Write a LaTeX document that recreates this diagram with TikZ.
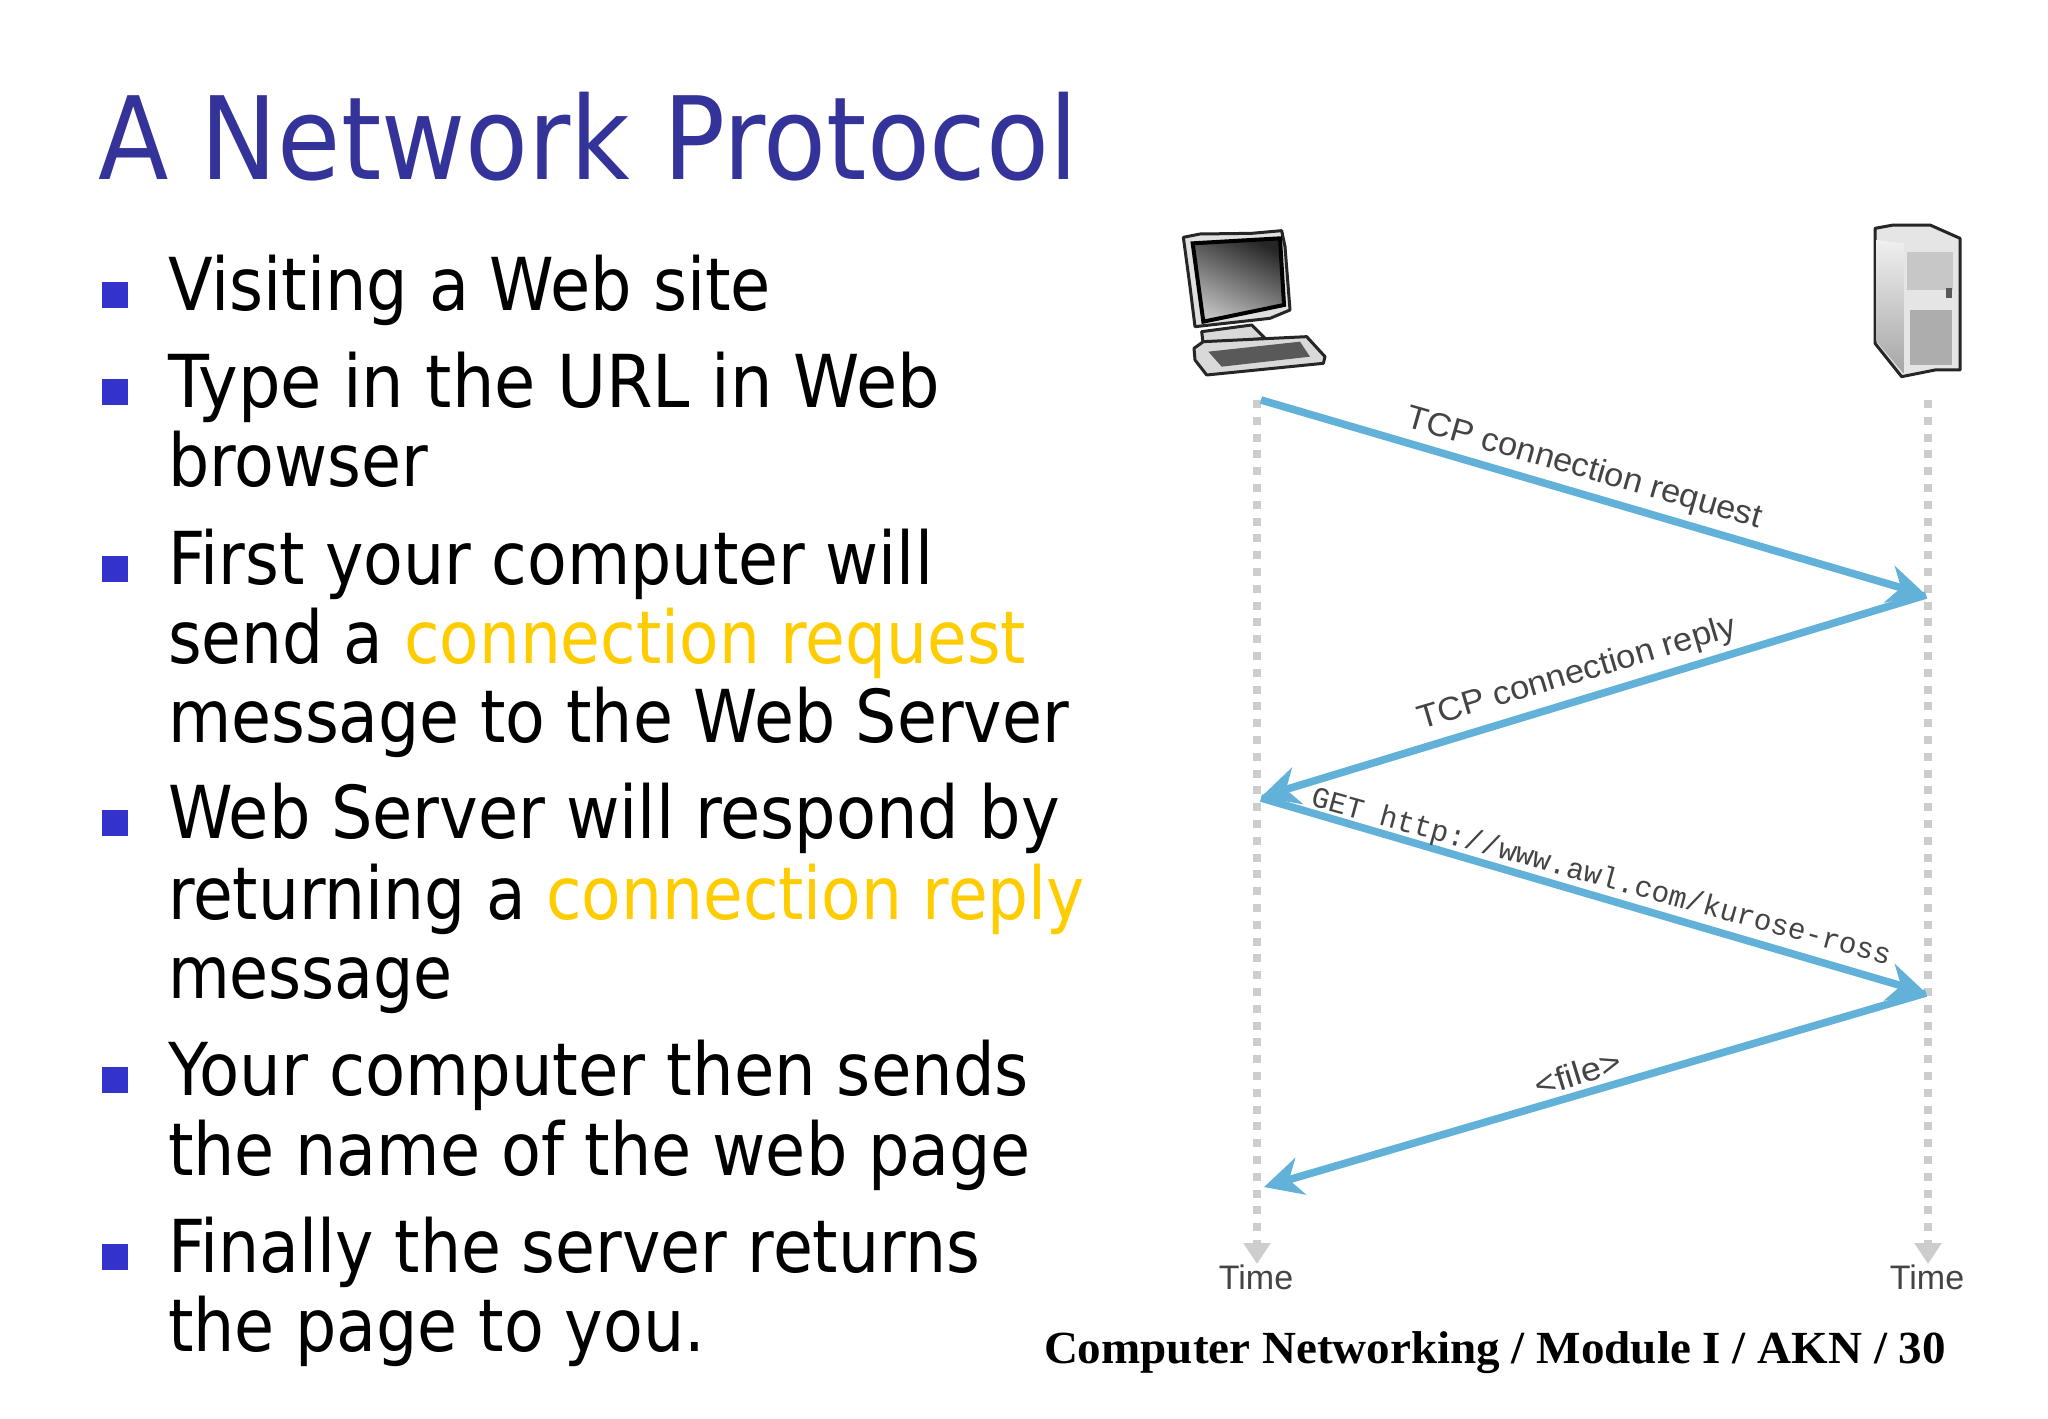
\documentclass[tikz,border=0pt]{standalone}
\usepackage{graphicx}
\usepackage{fontspec}
\setmainfont{DejaVu Sans}
\newfontfamily\footfont{Liberation Serif}
\newfontfamily\labelfont{Liberation Sans}
\newfontfamily\codefont{Liberation Mono}
\usetikzlibrary{arrows.meta,shadings}
\definecolor{titleblue}{HTML}{333399}
\definecolor{bulletblue}{HTML}{3333CC}
\definecolor{hilite}{HTML}{FFCC00}
\definecolor{msgblue}{HTML}{62B1D9}
\definecolor{timegray}{HTML}{CDCDCD}
\definecolor{labelgray}{HTML}{444444}
\tikzset{
  bodyline/.style={inner sep=0pt,outer sep=0pt,anchor=base west,font=\fontsize{36.5}{40}\selectfont,text=black},
  titleline/.style={inner sep=0pt,outer sep=0pt,anchor=base west,font=\fontsize{57.5}{60}\selectfont,text=titleblue},
  footline/.style={inner sep=0pt,outer sep=0pt,anchor=base west,font=\footfont\bfseries\fontsize{23}{26}\selectfont,text=black},
  squarebullet/.style={rectangle,fill=bulletblue,inner sep=0pt,minimum size=12.8pt},
  msglabel/.style={inner sep=0pt,outer sep=0pt,text=labelgray,font=\labelfont\fontsize{16.5}{18}\selectfont},
  codelabel/.style={inner sep=0pt,outer sep=0pt,text=labelgray,font=\codefont\fontsize{14.8}{16}\selectfont},
  timelabel/.style={inner sep=0pt,outer sep=0pt,anchor=base,text=labelgray,font=\labelfont\fontsize{17}{19}\selectfont},
  timeline/.style={draw=timegray,line width=4pt,dash pattern=on 4pt off 4.4pt,-{Triangle[length=10.5pt,width=13pt,fill=timegray]}},
  msgarrow/.style={draw=msgblue,line width=3.8pt,-{Stealth[length=19pt,width=19pt,inset=6pt]}},
  iconline/.style={draw=black!85,line width=1.5pt,line join=round},
}
\newcommand{\fitted}[2]{\resizebox{\dimexpr 0.5pt*\numexpr#1\relax\relax}{\height}{#2}}
\newcommand{\bodytext}[5]{%
  \node[squarebullet] (b#1) at (115,#3-15) {};
  \node[bodyline] (t#1) at (#2,#3) {\fitted{#4-#2}{#5}};}
\newcommand{\moretext}[5]{\node[bodyline] (t#1) at (#2,#3) {\fitted{#4-#2}{#5}};}
\begin{document}
\begin{tikzpicture}[x=0.5pt,y=-0.5pt]
\useasboundingbox[fill=white] (0,0) rectangle (2048,1418);

\node[titleline] (title) at (98,179) {\fitted{1078-98}{A Network Protocol}};

\bodytext{a}{168}{310}{771}{Visiting a Web site}
\bodytext{b}{168}{407}{940}{Type in the URL in Web}
\moretext{c}{168}{486}{428}{browser}
\bodytext{d}{168}{584}{933}{First your computer will}
\moretext{e}{168}{663}{1026}{send a \textcolor{hilite}{connection request}}
\moretext{f}{168}{742}{1069}{message to the Web Server}
\bodytext{g}{168}{838}{1060}{Web Server will respond by}
\moretext{h}{168}{919}{1085}{returning a \textcolor{hilite}{connection reply}}
\moretext{i}{168}{998}{453}{message}
\bodytext{j}{168}{1095}{1029}{Your computer then sends}
\moretext{k}{168}{1175}{1031}{the name of the web page}
\bodytext{l}{168}{1272}{980}{Finally the server returns}
\moretext{m}{168}{1351}{705}{the page to you.}

\node[footline] (foot) at (1044,1363) {\fitted{1946-1044}{Computer Networking / Module I / AKN / 30}};

% time lines
\coordinate (ltop) at (1257,400);
\coordinate (lbot) at (1257,1264);
\coordinate (rtop) at (1928,400);
\coordinate (rbot) at (1928,1264);
\draw[timeline] (ltop) -- (lbot);
\draw[timeline] (rtop) -- (rbot);
\node[timelabel] (tl) at (1256,1289) {Time};
\node[timelabel] (tr) at (1927,1289) {Time};

% messages
\coordinate (m1s) at (1261,400);
\coordinate (m1e) at (1926,595);
\coordinate (m2e) at (1261,797);
\coordinate (m3s) at (1261,798);
\coordinate (m3e) at (1926,993);
\coordinate (m4e) at (1264,1187);
\draw[msgarrow] (m1s) -- (m1e);
\draw[msgarrow] (m1e) -- (m2e);
\draw[msgarrow] (m3s) -- (m3e);
\draw[msgarrow] (m3e) -- (m4e);

\node[msglabel,rotate=-16] (l1) at (1584,469) {\fitted{368}{TCP connection request}};
\node[msglabel,rotate=16.5] (l2) at (1577,674) {\fitted{330}{TCP connection reply}};
\node[codelabel,rotate=-15.4] (l3) at (1601,878) {\fitted{600}{GET http://www.awl.com/kurose-ross}};
\node[msglabel,rotate=17] (l4) at (1578,1073) {\fitted{89}{<file>}};

% computer icon
\begin{scope}[shift={(1170,210)},x=0.5pt/3,y=-0.5pt/3]
  \path[iconline,fill=black!12] (40,82) -- (90,72) -- (245,70) -- (335,62) -- (345,110) -- (360,300) -- (300,325) -- (75,350) -- (60,230) -- cycle;
  \path[draw=black,line width=2pt,left color=black!85,right color=black!25,shading angle=-25] (68,100) -- (330,85) -- (342,285) -- (100,335) -- cycle;
  \path[iconline,fill=black!15] (95,365) -- (245,345) -- (285,385) -- (100,405) -- cycle;
  \path[iconline,fill=black!15] (72,415) -- (100,395) -- (410,380) -- (465,440) -- (460,460) -- (110,495) -- (75,450) -- cycle;
  \fill[black!65] (115,425) -- (390,395) -- (420,440) -- (155,470) -- cycle;
\end{scope}

% server icon
\begin{scope}[shift={(1860,210)},x=0.5pt/3,y=-0.5pt/3]
  \path[iconline,fill=black!10] (45,55) -- (100,45) -- (210,45) -- (300,85) -- (300,480) -- (225,480) -- (125,500) -- (45,400) -- cycle;
  \path[top color=black!6,bottom color=black!35] (50,90) -- (130,100) -- (130,490) -- (50,395) -- cycle;
  \fill[black!22] (140,125) rectangle (280,240);
  \fill[black!10] (140,240) rectangle (280,300);
  \fill[black!32] (150,300) rectangle (275,465);
  \fill[black!65] (258,235) rectangle (275,265);
\end{scope}
\end{tikzpicture}
\end{document}
